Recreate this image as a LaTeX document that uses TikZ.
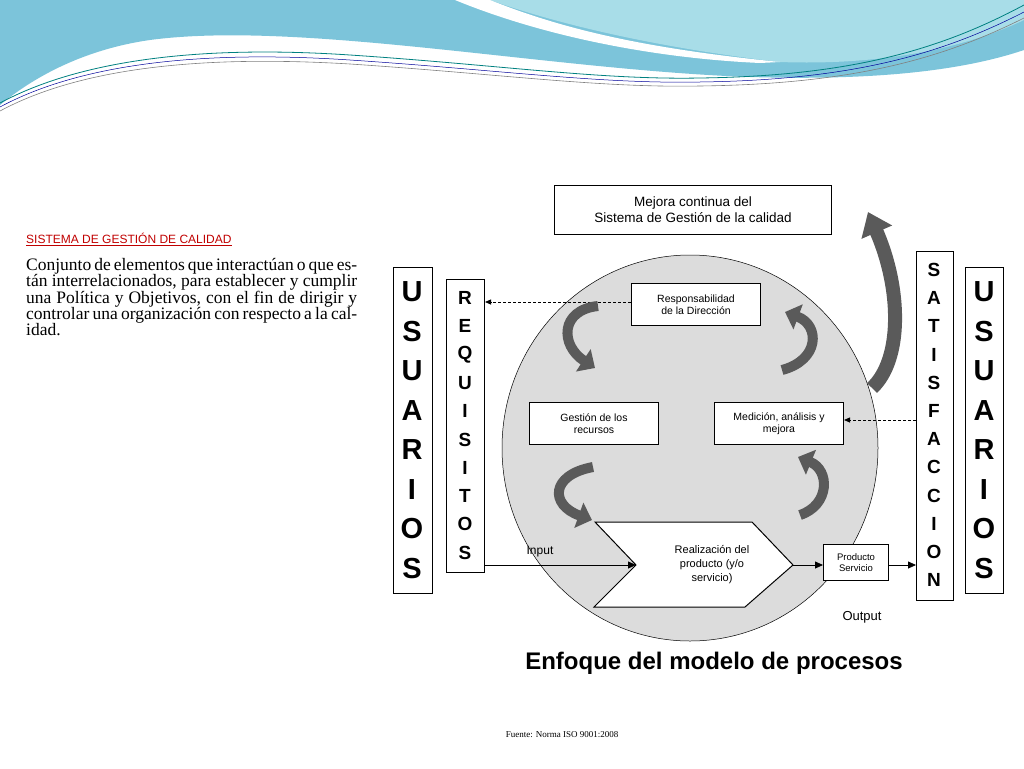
\documentclass[tikz,border=0pt]{standalone}
\usepackage{fontspec}
\setmainfont{Liberation Serif}
\setsansfont{Liberation Sans}
\usetikzlibrary{arrows.meta,shapes.geometric}
\definecolor{wave}{HTML}{7CC4DA}
\definecolor{wavelight}{HTML}{A8DDE8}
\definecolor{arrowgray}{HTML}{5A5A5A}
\definecolor{circgray}{HTML}{DCDCDC}
\definecolor{redtitle}{HTML}{C00000}
\tikzset{
  box/.style={draw, line width=1pt, fill=white, font=\sffamily\fontsize{10.5}{12.5}\selectfont, align=center, inner sep=0pt},
  bigletter/.style={font=\sffamily\bfseries\fontsize{29}{29}\selectfont, inner sep=0pt},
  midletter/.style={font=\sffamily\bfseries\fontsize{19}{19}\selectfont, inner sep=0pt},
  flow/.style={-{Triangle[length=8pt,width=7pt]}, line width=0.8pt},
  dashflow/.style={densely dashed, -{Triangle[length=6pt,width=5pt]}, line width=0.8pt},
  curl/.style={line width=10pt, arrowgray, -{Triangle[length=14pt,width=26pt]}},
}
\begin{document}
\begin{tikzpicture}[x=1pt,y=-1pt]
\useasboundingbox (0,0) rectangle (1024,768);
% header waves
\fill[wave] (0,0) -- (1024,0) -- (1024,50) .. controls (950,75) and (850,80) .. (750,77) .. controls (550,70) and (300,20) .. (150,40) .. controls (80,50) and (30,80) .. (0,105) -- cycle;
\fill[wavelight] (490,0) -- (1024,0) -- (1024,20) .. controls (950,55) and (860,65) .. (780,62) .. controls (660,48) and (560,25) .. (490,0) -- cycle;
\fill[white] (455,0) .. controls (540,35) and (650,58) .. (760,63) -- (780,62) .. controls (640,48) and (560,28) .. (490,0) -- cycle;
\draw[teal, line width=0.8pt] (0,103) .. controls (80,60) and (200,45) .. (350,55) .. controls (500,65) and (600,80) .. (700,78) .. controls (850,76) and (940,50) .. (1024,5);
\draw[blue!60!black, line width=0.5pt] (0,107) .. controls (80,64) and (200,50) .. (350,60) .. controls (500,70) and (600,84) .. (700,82) .. controls (850,80) and (940,55) .. (1024,12);
\draw[gray, line width=0.6pt] (0,111) .. controls (80,68) and (200,55) .. (350,64) .. controls (500,74) and (600,88) .. (700,86) .. controls (850,84) and (940,60) .. (1024,18);
% left text
\node[anchor=north west, inner sep=0pt, font=\sffamily\fontsize{12}{14}\selectfont, text=redtitle] (ttl) at (26,233) {\underline{SISTEMA DE GESTIÓN DE CALIDAD}};
\node[anchor=north west, inner sep=0pt, text width=331pt, align=justify, font=\fontsize{17.5}{16}\selectfont] (body) at (26,258)
 {\hyphenpenalty=10000\exhyphenpenalty=10000 Conjunto de elementos que interactúan o que están interrelacionados, para establecer y cumplir una Política y Objetivos, con el fin de dirigir y\ \ controlar una organización con respecto a la calidad.};
% diagram
\fill[circgray] (690,448) ellipse [x radius=188, y radius=193];
\draw[line width=0.5pt] (690,448) ellipse [x radius=188, y radius=193];
\node[box, minimum width=277pt, minimum height=49pt, anchor=north west, font=\sffamily\fontsize{13.5}{16}\selectfont] (mej) at (554,185) {Mejora continua del\\Sistema de Gestión de la calidad};
\node[box, minimum width=129pt, minimum height=42pt, anchor=north west] (resp) at (631,283) {Responsabilidad\\de la Dirección};
\node[box, minimum width=129pt, minimum height=42pt, anchor=north west] (gest) at (529,402) {Gestión de los\\recursos};
\node[box, minimum width=129pt, minimum height=42pt, anchor=north west] (med) at (714,402) {Medición, análisis y\\mejora};
\draw[line width=1pt, fill=white] (595,522) -- (752,522) -- (793,565) -- (745,607) -- (594,607) -- (636,565) -- cycle;
\coordinate (notch) at (636,565);
\coordinate (tip) at (793,565);
\node[font=\sffamily\fontsize{11}{14}\selectfont, align=center] (real) at (712,565) {Realización del\\producto (y/o\\servicio)};
\node[box, minimum width=65pt, minimum height=36pt, anchor=north west, font=\sffamily\fontsize{9.5}{11}\selectfont] (prod) at (823,544) {Producto\\Servicio};
\node[draw, line width=1pt, minimum width=39pt, minimum height=326pt, anchor=north west] (usl) at (393,267) {};
\node[draw, line width=1pt, minimum width=38pt, minimum height=293pt, anchor=north west] (req) at (446,279) {};
\node[draw, line width=1pt, minimum width=37pt, minimum height=349pt, anchor=north west] (sat) at (916,251) {};
\node[draw, line width=1pt, minimum width=38pt, minimum height=326pt, anchor=north west] (usr) at (965,267) {};
\foreach \l [count=\i] in {U,S,U,A,R,I,O,S} {
  \node[bigletter] (ul\i) at (412,292+\i*39.5-39.5) {\l};
  \node[bigletter] (ur\i) at (984,292+\i*39.5-39.5) {\l};
}
\foreach \l [count=\i] in {R,E,Q,U,I,S,I,T,O,S}
  \node[midletter] (rq\i) at (465,298+\i*28.3-28.3) {\l};
\foreach \l [count=\i] in {S,A,T,I,S,F,A,C,C,I,O,N}
  \node[midletter] (st\i) at (934,270+\i*28.2-28.2) {\l};
% flows
\draw[flow] (req.east |- notch) -- (notch);
\node[font=\sffamily\fontsize{12}{14}\selectfont] (inp) at (540,552) {Input};
\draw[flow] (tip) -- (prod.west |- tip);
\draw[flow] (prod.east |- tip) -- (sat.west |- tip);
\node[font=\sffamily\fontsize{13}{15}\selectfont] (out) at (862,617) {Output};
\draw[dashflow] (resp.west |- 0,302) -- (req.east |- 0,302);
\draw[dashflow] (sat.west |- 0,420) -- (med.east |- 0,420);
% curled arrows
\draw[curl] (598,306) .. controls (560,310) and (560,345) .. (595,368);
\draw[curl] (782,370) .. controls (820,360) and (820,325) .. (785,312);
\draw[curl] (593,467) .. controls (550,475) and (550,505) .. (592,520);
\draw[curl] (800,515) .. controls (830,505) and (830,470) .. (798,457);
\draw[line width=14pt, arrowgray, -{Triangle[length=22pt,width=32pt]}] (872,388) .. controls (902,360) and (902,290) .. (868,212);
\node[font=\sffamily\bfseries\fontsize{24}{26}\selectfont] (enf) at (714,663) {Enfoque del modelo de procesos};
\node[font=\fontsize{9}{10}\selectfont] (src) at (562,735) {Fuente: Norma ISO 9001:2008};
\end{tikzpicture}
\end{document}
